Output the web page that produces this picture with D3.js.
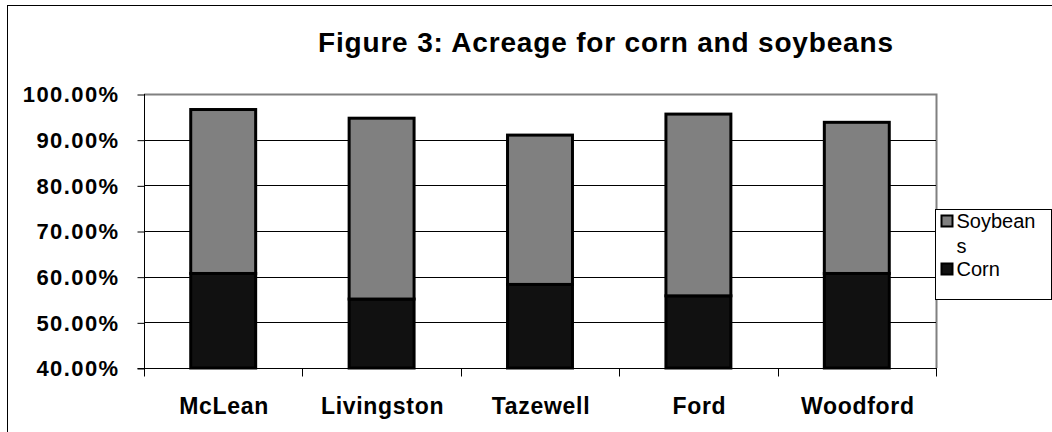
<!DOCTYPE html>
<html>
<head>
<meta charset="utf-8">
<script src="https://cdn.jsdelivr.net/npm/d3@7"></script>
<style>
  html, body { margin: 0; padding: 0; background: #fff; }
  svg { display: block; }
  text { font-family: "Liberation Sans", Arial, sans-serif; fill: #000; }
</style>
</head>
<body>
<svg id="chart" width="1052" height="432"></svg>
<script>
// Share of county acreage planted to each crop
const counties = ["McLean", "Livingston", "Tazewell", "Ford", "Woodford"];
const corn     = [0.607, 0.551, 0.583, 0.558, 0.607];
const soybeans = [0.359, 0.396, 0.327, 0.398, 0.331];
const yTicks   = [0.4, 0.5, 0.6, 0.7, 0.8, 0.9, 1.0];
const seriesNames = ["Corn", "Soybeans"];
const seriesColors = { Corn: "#111111", Soybeans: "#808080" };

const svg = d3.select("#chart");

// Outer chart frame (extends past the right and bottom edges)
svg.append("rect")
  .attr("x", 7.5).attr("y", 5.5)
  .attr("width", 1060).attr("height", 440)
  .attr("fill", "none").attr("stroke", "#000").attr("stroke-width", 1);

const plot = { left: 144, right: 936, top: 94, bottom: 368 };

const x = d3.scaleBand()
  .domain(counties)
  .range([plot.left, plot.right])
  .paddingInner(0.59)
  .paddingOuter(0.295);

const y = d3.scaleLinear()
  .domain([0.4, 1.0])
  .range([plot.bottom, plot.top]);

// Title
svg.append("text")
  .attr("x", 318).attr("y", 52)
  .attr("font-size", 28).attr("font-weight", "bold")
  .attr("textLength", 575).attr("lengthAdjust", "spacing")
  .text("Figure 3: Acreage for corn and soybeans");

// Plot-area frame (grey top and right edges)
svg.append("path")
  .attr("d", `M${plot.left},${plot.top + 0.5}H${plot.right + 0.5}V${plot.bottom}`)
  .attr("fill", "none").attr("stroke", "#808080").attr("stroke-width", 2);

// Horizontal gridlines
svg.append("g")
  .selectAll("line")
  .data(yTicks.filter(t => t > 0.4 && t < 1.0))
  .join("line")
  .attr("x1", plot.left).attr("x2", plot.right)
  .attr("y1", d => Math.round(y(d)) + 0.5).attr("y2", d => Math.round(y(d)) + 0.5)
  .attr("stroke", "#000").attr("stroke-width", 1);

// Stacked bars
const table = counties.map((c, i) => ({ county: c, Corn: corn[i], Soybeans: soybeans[i] }));
const stacked = d3.stack().keys(seriesNames)(table);
// Stack starts at zero; the axis begins at 40%, so clamp to the plot floor
svg.append("g")
  .selectAll("g")
  .data(stacked)
  .join("g")
  .attr("fill", d => seriesColors[d.key])
  .selectAll("rect")
  .data(d => d)
  .join("rect")
  .attr("x", d => x(d.data.county))
  .attr("width", x.bandwidth())
  .attr("y", d => y(d[1]))
  .attr("height", d => y(Math.max(d[0], 0.4)) - y(d[1]))
  .attr("stroke", "#000").attr("stroke-width", 3);

// Y axis
const yAxis = d3.axisLeft(y)
  .tickValues(yTicks)
  .tickSize(7)
  .tickFormat(d3.format(".2%"));
const gy = svg.append("g")
  .attr("transform", `translate(${plot.left + 0.5},0)`)
  .call(yAxis);
gy.select(".domain").attr("stroke", "#000").attr("d", `M-7,${plot.bottom + 0.5}H0V${plot.top}`);
gy.selectAll(".tick line").attr("stroke", "#000").attr("transform", "translate(0,0.5)");
gy.selectAll(".tick text")
  .attr("x", -25)
  .attr("dy", "0.36em")
  .attr("font-size", 22).attr("font-weight", "bold")
  .attr("letter-spacing", "1.4px")
  .attr("font-family", "Liberation Sans, Arial, sans-serif")
  .attr("fill", "#000");

// X axis (ticks at category boundaries)
const gx = svg.append("g")
  .attr("transform", `translate(0,${plot.bottom + 0.5})`);
gx.append("line")
  .attr("x1", plot.left).attr("x2", plot.right + 1)
  .attr("stroke", "#000");
const bounds = counties.map(c => x(c) - x.step() * x.paddingOuter()).concat([plot.right]);
gx.selectAll("line.tick")
  .data(bounds)
  .join("line")
  .attr("class", "tick")
  .attr("x1", d => Math.round(d) + 0.5).attr("x2", d => Math.round(d) + 0.5)
  .attr("y1", 0).attr("y2", 8)
  .attr("stroke", "#000");
gx.selectAll("text")
  .data(counties)
  .join("text")
  .attr("x", d => x(d) + x.bandwidth() / 2 + 1)
  .attr("y", 45)
  .attr("text-anchor", "middle")
  .attr("font-size", 23).attr("font-weight", "bold")
  .attr("letter-spacing", "0.7px")
  .text(d => d);

// Legend
const legend = svg.append("g").attr("transform", "translate(935.5,209.5)");
legend.append("rect")
  .attr("width", 116).attr("height", 90)
  .attr("fill", "#fff").attr("stroke", "#000").attr("stroke-width", 1);
const legendItems = [
  { key: "Soybeans", lines: ["Soybean", "s"], y: 12 },
  { key: "Corn", lines: ["Corn"], y: 60 }
];
const li = legend.selectAll("g.item")
  .data(legendItems)
  .join("g")
  .attr("class", "item")
  .attr("transform", d => `translate(6,${d.y})`);
li.append("rect")
  .attr("x", 0).attr("y", -6).attr("width", 11).attr("height", 11)
  .attr("fill", d => seriesColors[d.key])
  .attr("stroke", "#000").attr("stroke-width", 2);
li.append("text")
  .attr("x", 15).attr("y", 6)
  .attr("font-size", 20)
  .selectAll("tspan")
  .data(d => d.lines)
  .join("tspan")
  .attr("x", 15)
  .attr("dy", (d, i) => i === 0 ? 0 : 25)
  .text(d => d);
</script>
</body>
</html>
